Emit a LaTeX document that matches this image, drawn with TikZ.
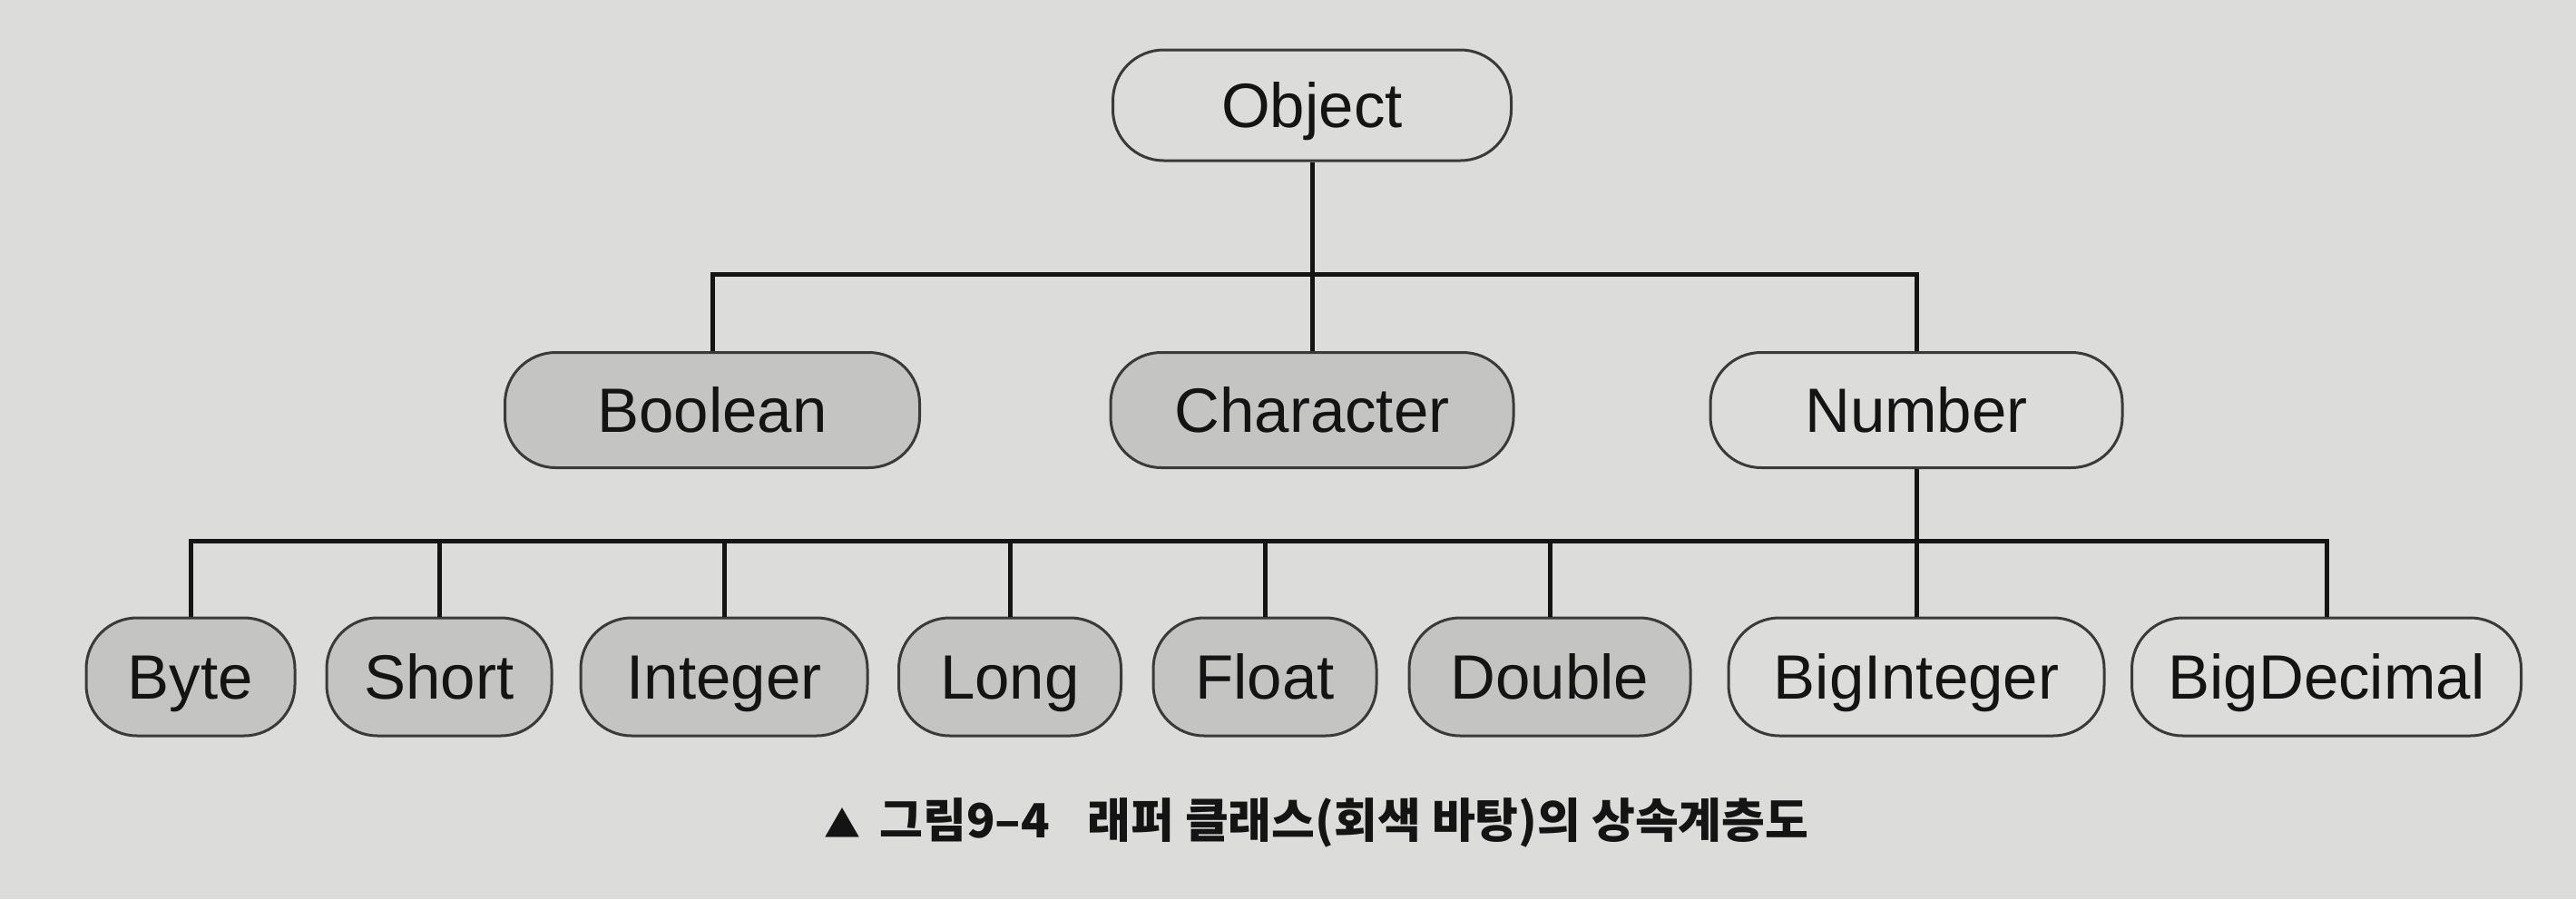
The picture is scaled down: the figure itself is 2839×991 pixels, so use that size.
\documentclass[tikz,border=0pt]{standalone}
\usepackage{fontspec}
\setmainfont{Liberation Sans}
\newfontfamily\krfont{Noto Sans CJK KR}
\definecolor{pagebg}{HTML}{DCDDDA}
\definecolor{wrapfill}{HTML}{C4C5C2}
\definecolor{boxline}{HTML}{3A3A3A}
\definecolor{ink}{HTML}{141414}
\begin{document}
\begin{tikzpicture}[x=0.5pt,y=-0.5pt,
  cls/.style={draw=boxline, line width=1.5pt, rounded corners=28pt, inner sep=0pt,
    text=ink, font=\fontsize{34.5}{40}\selectfont, text height=24.7pt, text depth=0pt},
  plainbox/.style={cls},
  wrapbox/.style={cls, fill=wrapfill},
  bw/.style={minimum width=#1*0.5pt},
  bh/.style={minimum height=#1*0.5pt},
  conn/.style={draw=ink, line width=2.5pt, line join=miter}]
\fill[pagebg] (0,0) rectangle (2839,991);
\useasboundingbox (0,0) rectangle (2839,991);

% level 0
\node[plainbox, bw=439, bh=122] (obj) at (1446,116) {Object};
% level 1
\node[wrapbox, bw=457, bh=127] (bool) at (785,452) {Boolean};
\node[wrapbox, bw=444, bh=127] (char) at (1446,452) {Character};
\node[plainbox, bw=454, bh=127] (num) at (2112,452) {Number};
% level 2
\node[wrapbox, bw=230, bh=130] (byte) at (210,746) {Byte};
\node[wrapbox, bw=248, bh=130] (short) at (484,746) {Short};
\node[wrapbox, bw=316, bh=130] (int) at (798,746) {Integer};
\node[wrapbox, bw=245, bh=130] (long) at (1113,746) {Long};
\node[wrapbox, bw=246, bh=130] (float) at (1394,746) {Float};
\node[wrapbox, bw=310, bh=130] (double) at (1708,746) {Double};
\node[plainbox, bw=414, bh=130] (bigint) at (2112,746) {BigInteger};
\node[plainbox, bw=429, bh=130] (bigdec) at (2564,746) {BigDecimal};

\coordinate (bar1) at (0,302);
\coordinate (bar2) at (0,596);

% connectors level 0 -> 1
\draw[conn] (obj.south) -- (char.north);
\draw[conn] (bool.north) -- (bool.north |- bar1) -- (num.north |- bar1) -- (num.north);
% connectors level 1 -> 2
\draw[conn] (num.south) -- (bigint.north);
\draw[conn] (byte.north) -- (byte.north |- bar2) -- (bigdec.north |- bar2) -- (bigdec.north);
\foreach \n in {short,int,long,float,double}{
  \draw[conn] (\n.north) -- (\n.north |- bar2);
}

% caption
\node[text=ink, inner sep=0pt] (cap) at (1451,907)
  {\krfont\bfseries\fontsize{26}{30}\selectfont {\fontsize{20}{24}\selectfont ▲}\hspace{0.4em}그림9–4\hspace{0.8em}래퍼 클래스(회색 바탕)의 상속계층도};
\end{tikzpicture}
\end{document}
